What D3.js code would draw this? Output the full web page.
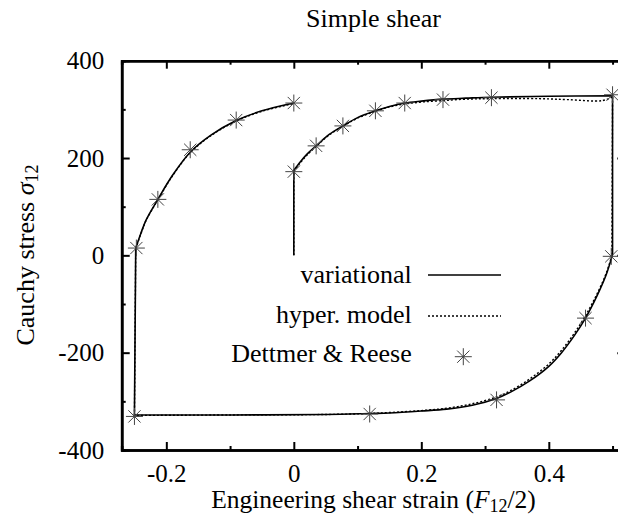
<!DOCTYPE html>
<html>
<head>
<meta charset="utf-8">
<script src="https://cdn.jsdelivr.net/npm/d3@7"></script>
<style>
  body { margin: 0; background: #fff; }
  svg text { font-family: "Liberation Serif", "DejaVu Serif", serif; fill: #000; }
  .axis path, .axis line { stroke: #000; }
</style>
</head>
<body>
<div id="chart"></div>
<script>
// strain / stress
const xMajor = [-0.2, 0, 0.2, 0.4];
const xMinor = [-0.1, 0.1, 0.3, 0.5];
const yMajor = [-400, -200, 0, 200, 400];
const yMinor = [-300, -100, 100, 300];

// variational: first two points of each branch are the elastic (straight) step
const varLoadX   = [0, 0, 0.01, 0.02, 0.035, 0.055, 0.077, 0.1, 0.128, 0.15, 0.174, 0.2, 0.234, 0.27, 0.31, 0.4, 0.5];
const varLoadY   = [0, 175, 192, 207, 225, 248, 266, 283, 297, 306, 313, 317, 321, 323, 325, 327, 328];
const varUnloadX = [0.5, 0.5, 0.49, 0.475, 0.4576, 0.44, 0.42, 0.4, 0.37, 0.34, 0.318, 0.28, 0.24, 0.2, 0.15, 0.119, 0.05, -0.1, -0.25];
const varUnloadY = [328, 2, -40, -85, -129, -165, -200, -228, -258, -281, -294, -308, -316, -320, -324, -325, -327, -328, -328];
const varReloadX = [-0.25, -0.248, -0.24, -0.232, -0.2133, -0.19, -0.1625, -0.13, -0.0904, -0.05, 0];
const varReloadY = [-328, 15, 45, 72, 115, 165, 212, 247, 277, 297, 313];

// hyper. model
const hypLoadX   = [0, 0, 0.01, 0.02, 0.035, 0.055, 0.077, 0.1, 0.128, 0.15, 0.174, 0.2, 0.234, 0.27, 0.31, 0.385, 0.43, 0.484, 0.5];
const hypLoadY   = [0, 172, 190, 205, 224, 247, 265, 282, 296, 305, 311, 315, 318, 321, 322, 322, 320, 318, 326];
const hypUnloadX = [0.5, 0.499, 0.49, 0.475, 0.457, 0.44, 0.42, 0.4, 0.37, 0.34, 0.318, 0.28, 0.24, 0.2, 0.15, 0.119, 0.05, -0.1, -0.25];
const hypUnloadY = [326, 0, -37, -81, -125, -160, -195, -223, -254, -278, -291, -305, -314, -319, -323, -325, -327, -328, -329];
const hypReloadX = [-0.25, -0.248, -0.24, -0.232, -0.2133, -0.19, -0.1625, -0.13, -0.0904, -0.05, 0];
const hypReloadY = [-329, 14, 44, 71, 114, 164, 211, 246, 276, 296, 312];

// Dettmer & Reese
const refX = [0, 0.035, 0.077, 0.128, 0.174, 0.234, 0.31, 0.5, 0.498, 0.4576, 0.318, 0.119, -0.25, -0.247, -0.2133, -0.1625, -0.0904, 0];
const refY = [172, 225, 266, 297, 313, 320, 324, 330, -2, -129, -297, -326, -331, 15, 115, 217, 278, 313];

const legendLabels = ["variational", "hyper. model", "Dettmer & Reese"];

const W = 618, H = 517;
const margin = { top: 60.7, left: 121.7 };
const plotW = 503.6, plotH = 389.3;

const svg = d3.select("#chart").append("svg")
  .attr("width", W).attr("height", H);

const g = svg.append("g")
  .attr("transform", `translate(${margin.left},${margin.top})`);

const x = d3.scaleLinear().domain([-0.27, 0.52]).range([0, plotW]);
const y = d3.scaleLinear().domain([-400, 400]).range([plotH, 0]);

const fmt = d => d === 0 ? "0" : String(d);

// minor ticks
g.append("g").attr("class", "axis").attr("transform", `translate(0,${plotH})`)
  .call(d3.axisBottom(x).tickValues(xMinor).tickSize(-4).tickFormat(""));
g.append("g").attr("class", "axis")
  .call(d3.axisTop(x).tickValues(xMinor).tickSize(-4).tickFormat(""));
g.append("g").attr("class", "axis")
  .call(d3.axisLeft(y).tickValues(yMinor).tickSize(-4).tickFormat(""));
g.append("g").attr("class", "axis").attr("transform", `translate(${plotW},0)`)
  .call(d3.axisRight(y).tickValues(yMinor).tickSize(-4).tickFormat(""));

// major ticks + frame
g.append("g").attr("class", "axis").attr("transform", `translate(0,${plotH})`)
  .call(d3.axisBottom(x).tickValues(xMajor).tickSize(-8).tickSizeOuter(0).tickPadding(14).tickFormat(fmt));
g.append("g").attr("class", "axis")
  .call(d3.axisTop(x).tickValues(xMajor).tickSize(-8).tickSizeOuter(0).tickFormat(""));
g.append("g").attr("class", "axis")
  .call(d3.axisLeft(y).tickValues(yMajor).tickSize(-8).tickSizeOuter(0).tickPadding(17.5).tickFormat(fmt));
g.append("g").attr("class", "axis").attr("transform", `translate(${plotW},0)`)
  .call(d3.axisRight(y).tickValues(yMajor).tickSize(-8).tickSizeOuter(0).tickFormat(""));

svg.selectAll(".axis path.domain").attr("stroke-width", 2.6);
svg.selectAll(".axis .tick line").attr("stroke-width", 2);
svg.selectAll(".axis text").attr("font-size", 25).attr("fill", "#000");

// curves
const straight = d3.line().x(d => x(d[0])).y(d => y(d[1]));
const smooth = d3.line().x(d => x(d[0])).y(d => y(d[1])).curve(d3.curveCatmullRom.alpha(0.5));

function branch(xs, ys) {
  const pts = xs.map((v, i) => [v, ys[i]]);
  return straight(pts.slice(0, 2)) + smooth(pts.slice(1));
}

g.append("path")
  .attr("d", branch(varLoadX, varLoadY) + branch(varUnloadX, varUnloadY) + branch(varReloadX, varReloadY))
  .attr("fill", "none").attr("stroke", "#000").attr("stroke-width", 1.6);

g.append("path")
  .attr("d", branch(hypLoadX, hypLoadY) + branch(hypUnloadX, hypUnloadY) + branch(hypReloadX, hypReloadY))
  .attr("fill", "none").attr("stroke", "#000").attr("stroke-width", 1.4)
  .attr("stroke-dasharray", "2,2");

// asterisk markers
const s = 8.5;
const star = `M${-s},0H${s}M0,${-s}V${s}M${-s * 0.72},${-s * 0.72}L${s * 0.72},${s * 0.72}M${-s * 0.72},${s * 0.72}L${s * 0.72},${-s * 0.72}`;

g.selectAll(".pt")
  .data(refX.map((v, i) => [v, refY[i]]))
  .enter().append("path")
  .attr("class", "pt")
  .attr("transform", d => `translate(${x(d[0])},${y(d[1])})`)
  .attr("d", star)
  .attr("fill", "none").attr("stroke", "#444").attr("stroke-width", 1);

// legend
const legX = 411.7;
const legRows = [283, 322.5, 362];
legendLabels.forEach((t, i) => {
  svg.append("text")
    .attr("x", legX).attr("y", legRows[i])
    .attr("text-anchor", "end")
    .attr("font-size", 26)
    .text(t);
});
svg.append("line").attr("x1", 428).attr("x2", 501).attr("y1", 275).attr("y2", 275)
  .attr("stroke", "#000").attr("stroke-width", 1.6);
svg.append("line").attr("x1", 428).attr("x2", 501).attr("y1", 316).attr("y2", 316)
  .attr("stroke", "#000").attr("stroke-width", 1.4).attr("stroke-dasharray", "2,2");
svg.append("path").attr("transform", "translate(463.3,356.7)").attr("d", star)
  .attr("fill", "none").attr("stroke", "#444").attr("stroke-width", 1);

// title
svg.append("text")
  .attr("x", margin.left + plotW / 2).attr("y", 27)
  .attr("text-anchor", "middle").attr("font-size", 26)
  .text("Simple shear");

// x title
const xt = svg.append("text")
  .attr("x", margin.left + plotW / 2).attr("y", 508)
  .attr("text-anchor", "middle").attr("font-size", 25.5);
xt.append("tspan").text("Engineering shear strain (");
xt.append("tspan").attr("font-style", "italic").text("F");
xt.append("tspan").attr("font-size", 18).attr("dy", 4).text("12");
xt.append("tspan").attr("dy", -4).text("/2)");

// y title
const yt = svg.append("text")
  .attr("transform", "translate(33.5,255) rotate(-90)")
  .attr("text-anchor", "middle").attr("font-size", 26);
yt.append("tspan").text("Cauchy stress ");
yt.append("tspan").attr("font-style", "italic").text("σ");
yt.append("tspan").attr("font-size", 18).attr("dy", 4).text("12");
</script>
</body>
</html>
